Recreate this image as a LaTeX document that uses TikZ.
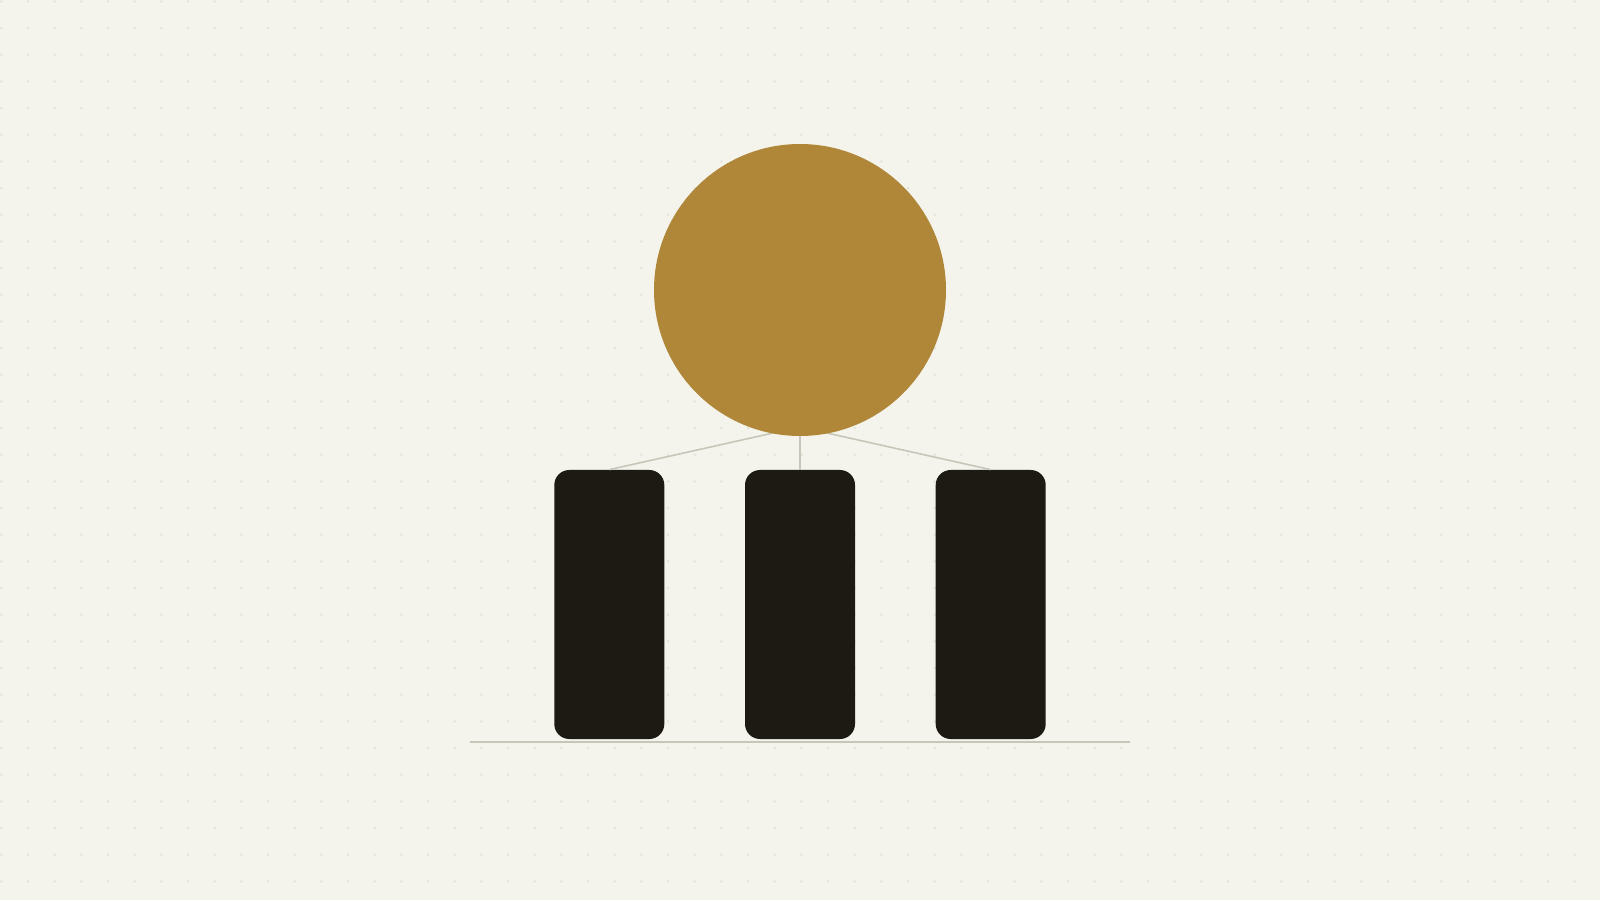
\documentclass[tikz,border=0pt]{standalone}
\usepackage{xcolor}
\usepackage{tikz}
\usetikzlibrary{positioning}
\definecolor{paper}{HTML}{F4F4EC}
\definecolor{dotgray}{HTML}{E4E3D9}
\definecolor{gold}{HTML}{B08739}
\definecolor{ink}{HTML}{1D1A13}
\definecolor{wire}{HTML}{C8C6B8}
\tikzset{
  pillar/.style={draw=none, fill=ink, rounded corners=0.3cm, minimum width=2.2cm, minimum height=5.38cm, inner sep=0pt},
  link/.style={wire, line width=0.9pt}
}

\begin{document}
\begin{tikzpicture}
				\fill[paper] (0,0) rectangle (32,18);
				\useasboundingbox (0,0) rectangle (32,18);
				\foreach \i in {0,...,60}
					\foreach \j in {0,...,34}
						\fill[dotgray] (\i*0.5333+0.03,18-\j*0.5333-0.03) circle (0.028);
				% ground line
				\coordinate (groundl) at (9.4,3.16);
				\coordinate (groundr) at (22.6,3.16);
				\draw[link] (groundl) -- (groundr);
				% pillars
				\node[pillar] (pillarb) at (16,5.91) {};
				\node[pillar, left=1.6cm of pillarb] (pillara) {};
				\node[pillar, right=1.6cm of pillarb] (pillarc) {};
				% links behind the disc
				\coordinate (hub) at (16,9.46);
				\draw[link] (hub) -- (pillara.north);
				\draw[link] (hub) -- (pillarb.north);
				\draw[link] (hub) -- (pillarc.north);
				% disc
				\node[circle, fill=gold, minimum size=5.84cm, inner sep=0pt] (sun) at (16,12.2) {};
			\end{tikzpicture}
\end{document}
